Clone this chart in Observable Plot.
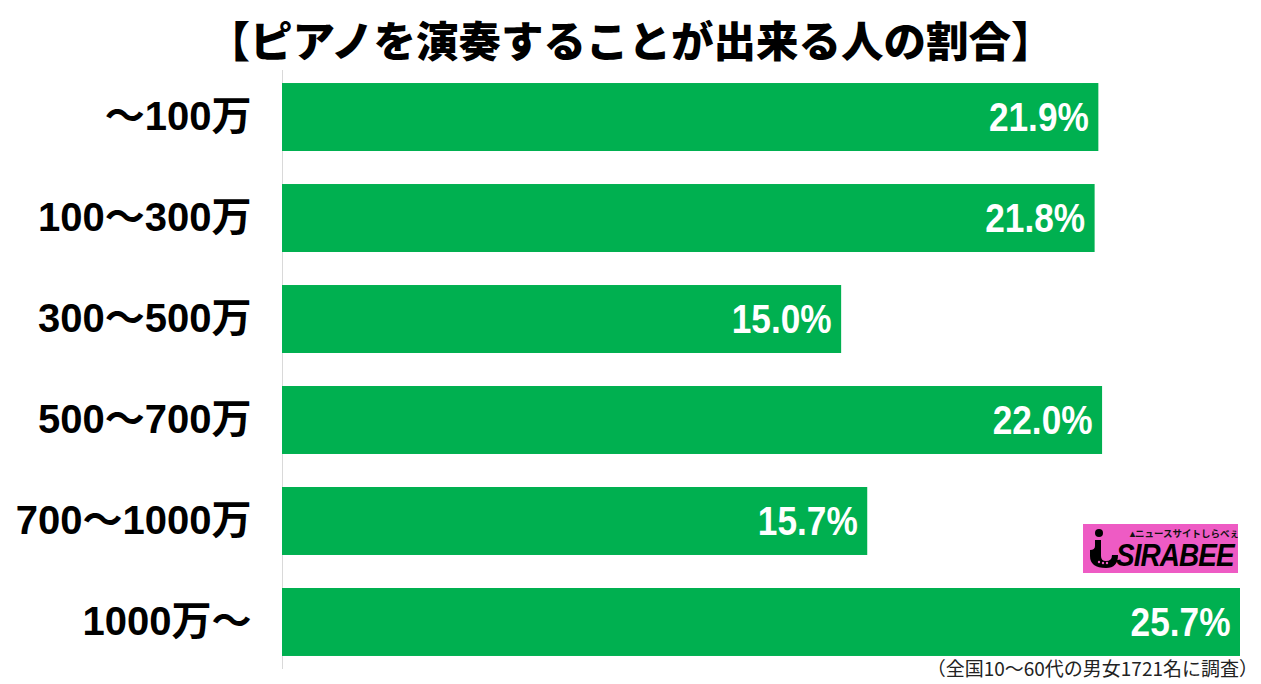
<!DOCTYPE html>
<html>
<head>
<meta charset="utf-8">
<script src="https://cdn.jsdelivr.net/npm/d3@7"></script>
<script src="https://cdn.jsdelivr.net/npm/@observablehq/plot@0.6"></script>
<style>
  html, body { margin: 0; padding: 0; background: #fff; }
  #wrap { position: relative; width: 1261px; height: 684px; overflow: hidden; }
  #title { position: absolute; left: 0; top: 10px; width: 1261px; text-align: center;
    font-family: "Noto Sans CJK JP", sans-serif; font-weight: 900; font-size: 42.5px; line-height: 58px; color: #000; }
  #chart { position: absolute; left: 0; top: 70px; }
  #caption { position: absolute; right: 3px; top: 655px; font-family: "Noto Sans CJK JP", sans-serif;
    font-size: 19px; color: #222; line-height: 26px; }
  #logo { position: absolute; left: 1083px; top: 524px; width: 155px; height: 49px; background: #ee5bc4; overflow: hidden; }
  #logo .small { position: absolute; left: 47px; top: 4px; font-family: "Noto Sans CJK JP", sans-serif; font-weight: 700; font-size: 9.5px; line-height: 11px; color: #111; white-space: nowrap; }
  #logo .big { position: absolute; left: 33px; top: 17px; font-family: "Liberation Sans", sans-serif; font-weight: 900; font-style: italic; font-size: 31px; line-height: 30px; color: #000; letter-spacing: -1px; transform: scaleX(0.9); transform-origin: left; white-space: nowrap; }
  #logo .i { position: absolute; left: 3px; top: 4px; }
</style>
</head>
<body>
<div id="wrap">
  <div id="title">【ピアノを演奏することが出来る人の割合】</div>
  <div id="chart"></div>
  <div id="logo">
    <svg class="i" width="34" height="42" viewBox="0 0 34 42">
      <circle cx="13" cy="5" r="4" fill="#000"/>
      <path d="M9 12 L15 12 L15 28 Q15 33 20 33 Q26 33 26 27 L32 27 Q32 40 20 40 Q4 40 4 28 L4 22 Q9 22 9 18 Z" fill="#000"/>
      <circle cx="13" cy="34" r="1.2" fill="#ee5bc4"/><circle cx="17" cy="35" r="1.2" fill="#ee5bc4"/><circle cx="21" cy="35" r="1.2" fill="#ee5bc4"/>
    </svg>
    <div class="small">▴ニュースサイトしらべぇ</div>
    <div class="big">SIRABEE</div>
  </div>
  <div id="caption">（全国10～60代の男女1721名に調査）</div>
</div>
<script>
const categories = ["～100万", "100～300万", "300～500万", "500～700万", "700～1000万", "1000万～"];
const values = [21.9, 21.8, 15.0, 22.0, 15.7, 25.7];
const labels = ["21.9%", "21.8%", "15.0%", "22.0%", "15.7%", "25.7%"];

const data = categories.map((c, i) => ({category: c, value: values[i], label: labels[i]}));

const chart = Plot.plot({
  width: 1261,
  height: 614,
  marginLeft: 282,
  marginRight: 21,
  marginTop: 0,
  marginBottom: 15,
  style: {background: "transparent", color: "#000", fontFamily: "'Liberation Sans', 'Noto Sans CJK JP', sans-serif"},
  x: {domain: [0, 25.7], axis: null},
  y: {domain: categories, paddingInner: 0.327, paddingOuter: 0.129, round: false, label: null},
  marks: [
    Plot.ruleX([0], {stroke: "#d9d9d9", strokeWidth: 1}),
    Plot.barX(data, {y: "category", x: "value", fill: "#00b050"}),
    Plot.text(data, {y: "category", x: "value", text: "label", textAnchor: "end", dx: -10, fill: "#fff",
      fontSize: 41, fontWeight: "bold", className: "vlabel"}),
    Plot.axisY({tickSize: 0, tickPadding: 31, fontSize: 40, fontWeight: "bold", label: null})
  ]
});
// condense the value labels horizontally, keeping their right edge fixed
chart.querySelectorAll(".vlabel text").forEach(t => {
  const tr = t.getAttribute("transform") || "";
  const dx = t.getAttribute("dx");
  t.setAttribute("transform", tr + " scale(0.86,1)");
  if (dx) t.setAttribute("dx", String(parseFloat(dx) / 0.86));
});
document.getElementById("chart").appendChild(chart);
</script>
</body>
</html>
